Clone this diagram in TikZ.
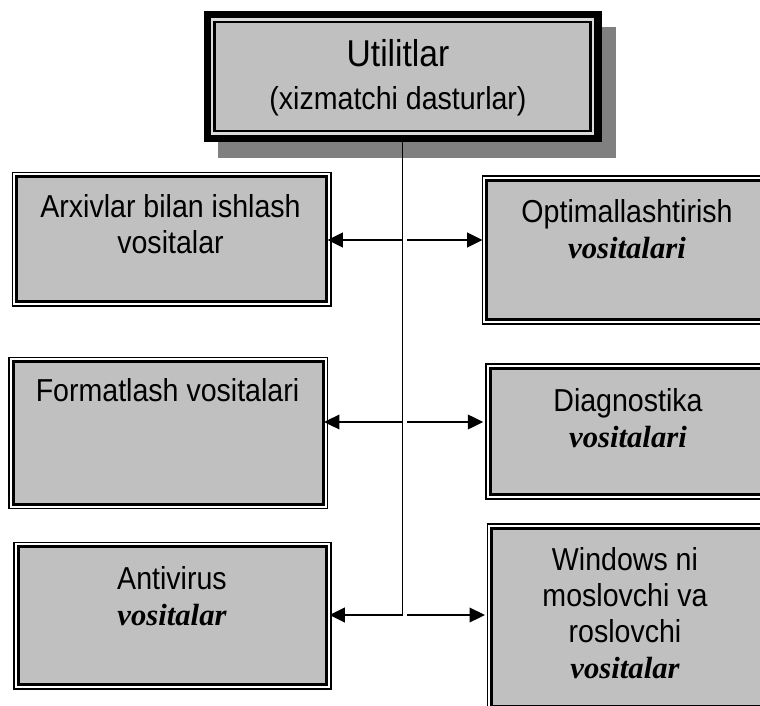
\documentclass[tikz,border=0pt]{standalone}
\usepackage{fontspec}
\setmainfont{Liberation Sans}
\newfontfamily\narrowsans[FakeStretch=0.9]{Liberation Sans}
\newfontfamily\serifbi{Liberation Serif}
\usetikzlibrary{arrows.meta}
\definecolor{boxgray}{HTML}{C0C0C0}
\definecolor{shadowgray}{HTML}{808080}
\definecolor{lightline}{HTML}{DADADA}
\newcommand{\vtxt}[1]{{\serifbi\bfseries\itshape\fontsize{23pt}{27pt}\selectfont #1}}
\begin{document}
\begin{tikzpicture}[x=0.75pt,y=-0.75pt,
  topbox/.style={rectangle, draw=black, line width=5.5pt, fill=boxgray, inner sep=0pt, outer sep=0pt},
  outerbox/.style={rectangle, draw=black, line width=1.25pt, fill=white, inner sep=0pt, outer sep=0pt},
  innerframe/.style={draw=black, line width=2.25pt, fill=boxgray},
  boxtext/.style={anchor=base, align=center, inner sep=0pt, font=\narrowsans\fontsize{23.8pt}{27pt}\selectfont},
  conn/.style={line width=1.3pt, draw=black},
  arr/.style={conn, -{Triangle[length=11.5pt,width=11pt]}},
]
\useasboundingbox (0,0) rectangle (760,706);
\clip (0,0) rectangle (760,706);

% top box with shadow
\fill[shadowgray] (218,27) rectangle (616,158);
\node[topbox, minimum width=293pt, minimum height=92.8pt] (top) at (402.5,76.5) {};
\draw[lightline, line width=1.8pt] ([shift={(4.85,4.85)}]top.north west) rectangle ([shift={(-4.85,-4.85)}]top.south east);
\draw[black, line width=1.9pt] ([shift={(7.35,7.35)}]top.north west) rectangle ([shift={(-7.35,-7.35)}]top.south east);
\node[anchor=base, align=center, inner sep=0pt, font=\narrowsans\fontsize{23.8pt}{32.25pt}\selectfont] (toptxt) at (398,110)
  {{\fontsize{28pt}{32.25pt}\selectfont Utilitlar}\\(xizmatchi dasturlar)};

% small boxes
\node[outerbox, minimum width=238.7pt, minimum height=100pt]  (L1) at (171.7,239.2) {};
\node[outerbox, minimum width=216.5pt, minimum height=111.2pt] (R1) at (626.85,250) {};
\node[outerbox, minimum width=238.7pt, minimum height=113.2pt] (L2) at (168.3,433) {};
\node[outerbox, minimum width=214pt, minimum height=101.2pt]  (R2) at (628.5,431.65) {};
\node[outerbox, minimum width=237.5pt, minimum height=110pt]  (L3) at (172.5,615.85) {};
\node[outerbox, minimum width=212.7pt, minimum height=140.2pt] (R3) at (629.35,617.65) {};
\foreach \b in {L1,R1,L2,R2,L3,R3}{
  \draw[innerframe] ([shift={(4.4,4.4)}]\b.north west) rectangle ([shift={(-4.4,-4.4)}]\b.south east);
}

% texts (anchor base = baseline of the last line)
\node[boxtext] (L1t) at (170.5,253) {Arxivlar bilan ishlash\\vositalar};
\node[boxtext] (R1t) at (627,258) {Optimallashtirish\\\vtxt{vositalari}};
\node[boxtext] (L2t) at (167.5,401.7) {Formatlash vositalari};
\node[boxtext] (R2t) at (628,447) {Diagnostika\\\vtxt{vositalari}};
\node[boxtext] (L3t) at (172,625) {Antivirus\\\vtxt{vositalar}};
\node[boxtext] (R3t) at (625,678) {Windows ni\\moslovchi va\\roslovchi\\\vtxt{vositalar}};

% connectors
\coordinate (j1) at (402.5,240);
\coordinate (j1r) at (407,240);
\coordinate (j2) at (402.5,422);
\coordinate (j2r) at (407,422);
\coordinate (j3) at (402.5,615);
\coordinate (j3r) at (407,615);
\draw[conn] (top.south) -- (j3);
\draw[arr, shorten >=-2.5pt] (j1) -- (j1 -| L1.east);
\draw[arr] (j1r) -- (j1r -| R1.west);
\draw[arr, shorten >=-2.5pt] (j2) -- (j2 -| L2.east);
\draw[arr, shorten >=2pt] (j2r) -- (j2r -| R2.west);
\draw[arr, shorten >=-1pt] (j3) -- (j3 -| L3.east);
\draw[arr, shorten >=2pt] (j3r) -- (j3r -| R3.west);
\end{tikzpicture}
\end{document}
